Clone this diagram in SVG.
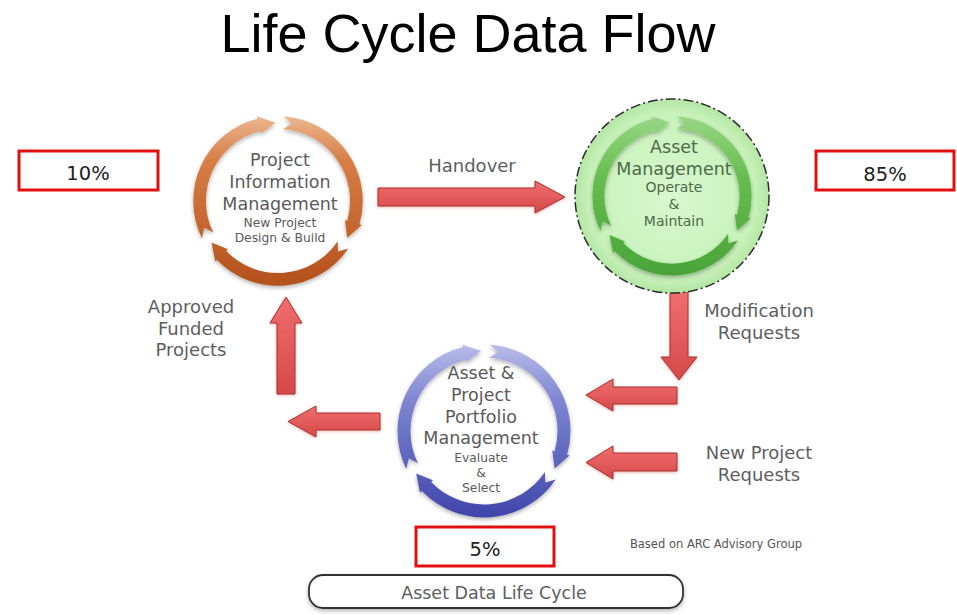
<svg xmlns="http://www.w3.org/2000/svg" xmlns:xlink="http://www.w3.org/1999/xlink" width="957" height="615" viewBox="0 0 957 615">
<style>
  text { font-family: "DejaVu Sans", "Liberation Sans", sans-serif; text-anchor: middle; }
  .title { font-family: "Liberation Sans", Arial, sans-serif; font-size: 54px; fill: #000; }
  .big { font-size: 17.5px; fill: #5a5a5a; }
  .small { font-size: 12.3px; fill: #5a5a5a; }
  .gbig { font-size: 17.5px; fill: #4d6a48; }
  .gsmall { font-size: 14px; fill: #4d6a48; }
  .lbl { font-size: 18px; fill: #5e5e5e; }
  .pct { font-size: 19.5px; fill: #222; }
  .pbox { fill: #fff; stroke: #e01010; stroke-width: 3; }
  .arrow { fill: url(#redG); stroke: #a83030; stroke-width: 1; filter: url(#glow); }
</style>
<defs>
  <path id="seg" d="M6.04,-86.29 A86.5,86.5 0 0 1 83.15,23.84 L85.56,24.53 L70.63,37.56 L68.25,19.57 L70.66,20.26 A73.5,73.5 0 0 0 5.13,-73.32 L13.89,-78.78 Z"/>
  <linearGradient id="orangeG" x1="0" y1="0" x2="0" y2="1">
    <stop offset="0" stop-color="#f0c6a4"/>
    <stop offset="0.3" stop-color="#d77d45"/>
    <stop offset="1" stop-color="#b04c18"/>
  </linearGradient>
  <linearGradient id="blueG" x1="0" y1="0" x2="0" y2="1">
    <stop offset="0" stop-color="#c4c8ee"/>
    <stop offset="0.35" stop-color="#7d84d0"/>
    <stop offset="1" stop-color="#3a40a6"/>
  </linearGradient>
  <linearGradient id="greenG" x1="0" y1="0" x2="0" y2="1">
    <stop offset="0" stop-color="#a5dd93"/>
    <stop offset="0.4" stop-color="#66bd50"/>
    <stop offset="1" stop-color="#45a034"/>
  </linearGradient>
  <radialGradient id="discG" cx="0.5" cy="0.5" r="0.5">
    <stop offset="0" stop-color="#d8f8cf"/>
    <stop offset="0.85" stop-color="#c8f2bb"/>
    <stop offset="1" stop-color="#b4e6a4"/>
  </radialGradient>
  <linearGradient id="redG" x1="0" y1="0" x2="0" y2="1">
    <stop offset="0" stop-color="#ee6e6e"/>
    <stop offset="0.5" stop-color="#e45c5c"/>
    <stop offset="1" stop-color="#d44848"/>
  </linearGradient>
  <clipPath id="clipO">
    <use xlink:href="#seg" transform="translate(278,201) scale(0.98) rotate(0)"/>
    <use xlink:href="#seg" transform="translate(278,201) scale(0.98) rotate(120)"/>
    <use xlink:href="#seg" transform="translate(278,201) scale(0.98) rotate(240)"/>
  </clipPath>
  <clipPath id="clipG">
    <use xlink:href="#seg" transform="translate(672,196) scale(0.92) rotate(0)"/>
    <use xlink:href="#seg" transform="translate(672,196) scale(0.92) rotate(120)"/>
    <use xlink:href="#seg" transform="translate(672,196) scale(0.92) rotate(240)"/>
  </clipPath>
  <clipPath id="clipB">
    <use xlink:href="#seg" transform="translate(484,431) scale(1.0) rotate(0)"/>
    <use xlink:href="#seg" transform="translate(484,431) scale(1.0) rotate(120)"/>
    <use xlink:href="#seg" transform="translate(484,431) scale(1.0) rotate(240)"/>
  </clipPath>
  <filter id="sh" x="-20%" y="-20%" width="140%" height="140%">
    <feDropShadow dx="0" dy="2" stdDeviation="2" flood-color="#000" flood-opacity="0.3"/>
  </filter>
  <filter id="glow" x="-20%" y="-20%" width="140%" height="140%">
    <feDropShadow dx="0" dy="1" stdDeviation="1.5" flood-color="#d05050" flood-opacity="0.45"/>
  </filter>
</defs>
<rect width="957" height="615" fill="#fff"/>
<text class="title" x="468" y="52">Life Cycle Data Flow</text>

<g id="connectors">
  <path class="arrow" d="M378,188 L535,188 L535,181 L565,197 L535,213 L535,206 L378,206 Z"/>
  <path class="arrow" d="M670,292 L688,292 L688,357 L697,357 L679,380 L661,357 L670,357 Z"/>
  <path class="arrow" d="M677,387 L613,387 L613,379 L586,395 L613,411 L613,404 L677,404 Z"/>
  <path class="arrow" d="M677,453 L613,453 L613,446 L586,462.5 L613,479 L613,471 L677,471 Z"/>
  <path class="arrow" d="M380,413 L316,413 L316,406 L288,421.5 L316,437 L316,430 L380,430 Z"/>
  <path class="arrow" d="M277,394 L277,323 L270,323 L286,297 L302,323 L295,323 L295,394 Z"/>
  <text class="lbl" x="472" y="172">Handover</text>
  <text class="lbl" x="759" y="317">Modification</text>
  <text class="lbl" x="759" y="339">Requests</text>
  <text class="lbl" x="759" y="459">New Project</text>
  <text class="lbl" x="759" y="481">Requests</text>
  <text class="lbl" x="191" y="313">Approved</text>
  <text class="lbl" x="191" y="335">Funded</text>
  <text class="lbl" x="191" y="356">Projects</text>
</g>

<g id="node-pim">
  <g filter="url(#sh)"><rect x="180" y="103" width="196" height="196" fill="url(#orangeG)" clip-path="url(#clipO)"/></g>
  <text class="big" x="280" y="166">Project</text>
  <text class="big" x="280" y="188">Information</text>
  <text class="big" x="280" y="210">Management</text>
  <text class="small" x="280" y="227">New Project</text>
  <text class="small" x="280" y="242">Design &amp; Build</text>
</g>

<g id="node-am">
  <circle cx="672" cy="196" r="97" fill="url(#discG)" stroke="#2b2b2b" stroke-width="1.5" stroke-dasharray="10 3 2 3"/>
  <g filter="url(#sh)"><rect x="577" y="101" width="190" height="190" fill="url(#greenG)" clip-path="url(#clipG)"/></g>
  <text class="gbig" x="674" y="153">Asset</text>
  <text class="gbig" x="674" y="175">Management</text>
  <text class="gsmall" x="674" y="192">Operate</text>
  <text class="gsmall" x="674" y="209">&amp;</text>
  <text class="gsmall" x="674" y="226">Maintain</text>
</g>

<g id="node-appm">
  <g filter="url(#sh)"><rect x="386" y="333" width="196" height="196" fill="url(#blueG)" clip-path="url(#clipB)"/></g>
  <text class="big" x="481" y="379">Asset &amp;</text>
  <text class="big" x="481" y="401">Project</text>
  <text class="big" x="481" y="423">Portfolio</text>
  <text class="big" x="481" y="444">Management</text>
  <text class="small" x="481" y="462">Evaluate</text>
  <text class="small" x="481" y="477">&amp;</text>
  <text class="small" x="481" y="492">Select</text>
</g>

<g id="node-pct10">
  <rect class="pbox" x="19" y="151" width="139" height="39"/>
  <text class="pct" x="88" y="180">10%</text>
</g>
<g id="node-pct85">
  <rect class="pbox" x="816" y="151" width="138" height="39"/>
  <text class="pct" x="885" y="181">85%</text>
</g>
<g id="node-pct5">
  <rect class="pbox" x="416" y="527" width="138" height="39"/>
  <text class="pct" x="485" y="556">5%</text>
</g>

<g id="node-footer">
  <rect x="309" y="575" width="374" height="33" rx="14" ry="14" fill="#fff" stroke="#333" stroke-width="1.8" filter="url(#sh)"/>
  <text class="lbl" x="494" y="599" style="font-size:17.5px">Asset Data Life Cycle</text>
</g>
<text x="716" y="548" style="font-size:11.5px; fill:#555">Based on ARC Advisory Group</text>
</svg>
